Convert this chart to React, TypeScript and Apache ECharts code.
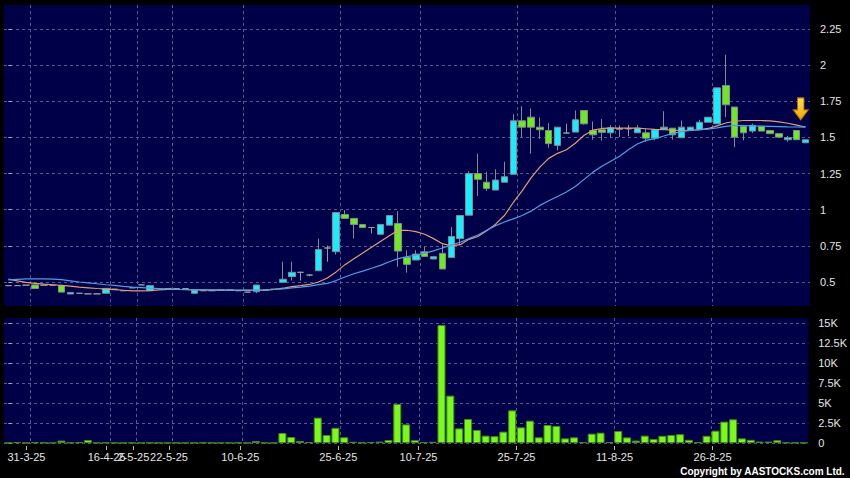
import React, { useEffect, useRef } from 'react';
import * as echarts from 'echarts';

const dates = [
  '27-3-25', '28-3-25', '31-3-25', '1-4-25', '2-4-25', '3-4-25', '7-4-25', '8-4-25', '9-4-25', '10-4-25',
  '14-4-25', '16-4-25', '22-4-25', '25-4-25', '2-5-25', '8-5-25', '13-5-25', '19-5-25', '22-5-25', '23-5-25',
  '27-5-25', '29-5-25', '30-5-25', '3-6-25', '4-6-25', '6-6-25', '10-6-25', '11-6-25', '12-6-25', '13-6-25',
  '16-6-25', '17-6-25', '18-6-25', '19-6-25', '20-6-25', '23-6-25', '24-6-25', '25-6-25', '26-6-25', '27-6-25',
  '30-6-25', '2-7-25', '3-7-25', '4-7-25', '7-7-25', '8-7-25', '10-7-25', '11-7-25', '14-7-25', '15-7-25',
  '16-7-25', '17-7-25', '18-7-25', '21-7-25', '22-7-25', '23-7-25', '24-7-25', '25-7-25', '28-7-25', '29-7-25',
  '30-7-25', '31-7-25', '1-8-25', '4-8-25', '5-8-25', '6-8-25', '7-8-25', '8-8-25', '11-8-25', '12-8-25',
  '13-8-25', '14-8-25', '15-8-25', '18-8-25', '19-8-25', '20-8-25', '21-8-25', '22-8-25', '25-8-25', '26-8-25',
  '27-8-25', '28-8-25', '29-8-25', '1-9-25', '2-9-25', '3-9-25', '4-9-25', '5-9-25', '8-9-25', '9-9-25',
  '10-9-25',
];

// [open, close, low, high]
const ohlc = [
  [0.475, 0.475, 0.475, 0.475], [0.475, 0.475, 0.475, 0.475], [0.478, 0.478, 0.478, 0.478], [0.48, 0.455, 0.455, 0.48],
  [0.478, 0.478, 0.478, 0.478], [0.478, 0.478, 0.478, 0.478], [0.475, 0.43, 0.43, 0.475], [0.417, 0.428, 0.417, 0.428],
  [0.422, 0.422, 0.422, 0.422], [0.418, 0.418, 0.418, 0.418], [0.418, 0.418, 0.418, 0.418], [0.422, 0.456, 0.422, 0.456],
  [0.45, 0.45, 0.45, 0.45], [0.44, 0.44, 0.44, 0.44], [0.46, 0.46, 0.46, 0.46], [0.48, 0.48, 0.48, 0.48],
  [0.44, 0.475, 0.44, 0.475], [0.455, 0.455, 0.455, 0.455], [0.455, 0.455, 0.455, 0.455], [0.455, 0.455, 0.455, 0.455],
  [0.455, 0.455, 0.455, 0.455], [0.422, 0.442, 0.422, 0.442], [0.44, 0.44, 0.44, 0.44], [0.44, 0.44, 0.44, 0.44],
  [0.445, 0.445, 0.445, 0.445], [0.445, 0.445, 0.445, 0.445], [0.44, 0.44, 0.44, 0.44], [0.43, 0.43, 0.43, 0.43],
  [0.433, 0.479, 0.422, 0.479], [0.445, 0.445, 0.445, 0.445], [0.45, 0.45, 0.45, 0.45], [0.498, 0.519, 0.498, 0.64],
  [0.537, 0.567, 0.51, 0.64], [0.567, 0.567, 0.51, 0.571], [0.548, 0.548, 0.54, 0.555], [0.578, 0.725, 0.578, 0.8],
  [0.735, 0.735, 0.64, 0.752], [0.71, 0.98, 0.69, 0.98], [0.967, 0.94, 0.94, 0.997], [0.94, 0.898, 0.8, 0.94],
  [0.898, 0.877, 0.877, 0.898], [0.877, 0.877, 0.836, 0.877], [0.83, 0.898, 0.83, 0.898], [0.893, 0.96, 0.893, 0.96],
  [0.905, 0.714, 0.605, 0.99], [0.67, 0.622, 0.565, 0.72], [0.652, 0.693, 0.652, 0.72], [0.709, 0.677, 0.677, 0.743],
  [0.659, 0.675, 0.659, 0.675], [0.698, 0.59, 0.59, 0.76], [0.67, 0.815, 0.67, 0.88], [0.8, 0.96, 0.755, 0.96],
  [0.962, 1.25, 0.962, 1.266], [1.25, 1.21, 1.095, 1.387], [1.19, 1.146, 1.13, 1.262], [1.136, 1.205, 1.136, 1.28],
  [1.19, 1.228, 1.19, 1.332], [1.245, 1.615, 1.245, 1.66], [1.615, 1.571, 1.5, 1.716], [1.64, 1.571, 1.387, 1.7],
  [1.571, 1.553, 1.49, 1.637], [1.548, 1.457, 1.43, 1.6], [1.445, 1.571, 1.41, 1.571], [1.53, 1.53, 1.53, 1.594],
  [1.537, 1.622, 1.537, 1.686], [1.686, 1.594, 1.588, 1.686], [1.548, 1.518, 1.484, 1.61], [1.553, 1.535, 1.478, 1.627],
  [1.532, 1.567, 1.5, 1.585], [1.556, 1.562, 1.502, 1.583], [1.56, 1.56, 1.51, 1.585], [1.532, 1.564, 1.532, 1.585],
  [1.532, 1.495, 1.47, 1.56], [1.495, 1.553, 1.48, 1.553], [1.557, 1.571, 1.557, 1.681], [1.564, 1.518, 1.485, 1.564],
  [1.498, 1.571, 1.498, 1.617], [1.548, 1.571, 1.548, 1.571], [1.553, 1.605, 1.553, 1.622], [1.605, 1.64, 1.605, 1.64],
  [1.594, 1.843, 1.594, 1.843], [1.859, 1.726, 1.64, 2.072], [1.71, 1.502, 1.433, 1.71], [1.576, 1.532, 1.48, 1.576],
  [1.544, 1.583, 1.53, 1.595], [1.576, 1.544, 1.544, 1.576], [1.548, 1.526, 1.526, 1.548], [1.526, 1.502, 1.502, 1.526],
  [1.484, 1.498, 1.47, 1.51], [1.548, 1.484, 1.484, 1.548], [1.463, 1.484, 1.463, 1.484],
];

const maShort = [
  0.52, 0.508, 0.497, 0.49, 0.485, 0.481, 0.477, 0.471, 0.465, 0.46,
  0.455, 0.451, 0.447, 0.443, 0.439, 0.438, 0.441, 0.446, 0.449, 0.448,
  0.447, 0.446, 0.445, 0.444, 0.443, 0.443, 0.443, 0.442, 0.443, 0.444,
  0.448, 0.457, 0.468, 0.475, 0.483, 0.5, 0.528, 0.57, 0.62, 0.66,
  0.7, 0.74, 0.78, 0.82, 0.857, 0.858, 0.848, 0.83, 0.8, 0.765,
  0.75, 0.758, 0.795, 0.815, 0.855, 0.9, 0.96, 1.05, 1.13, 1.22,
  1.295, 1.355, 1.39, 1.415, 1.46, 1.515, 1.55, 1.562, 1.564, 1.564,
  1.564, 1.564, 1.56, 1.556, 1.553, 1.55, 1.548, 1.55, 1.553, 1.562,
  1.58, 1.6, 1.612, 1.617, 1.617, 1.617, 1.615, 1.607, 1.598, 1.585,
  1.572,
];

const maLong = [
  0.515, 0.518, 0.521, 0.521, 0.521, 0.52, 0.516, 0.508, 0.5, 0.494,
  0.488, 0.481, 0.476, 0.47, 0.465, 0.461, 0.457, 0.454, 0.451, 0.449,
  0.448, 0.447, 0.446, 0.445, 0.445, 0.444, 0.444, 0.444, 0.444, 0.445,
  0.448, 0.453, 0.46, 0.464, 0.472, 0.482, 0.49, 0.51, 0.535, 0.557,
  0.575, 0.595, 0.615, 0.64, 0.662, 0.675, 0.685, 0.7, 0.715, 0.735,
  0.755, 0.775, 0.8, 0.825, 0.858, 0.89, 0.915, 0.937, 0.96, 0.99,
  1.03, 1.062, 1.092, 1.122, 1.16, 1.21, 1.26, 1.3, 1.335, 1.37,
  1.415, 1.455, 1.48, 1.492, 1.51, 1.528, 1.54, 1.549, 1.553, 1.558,
  1.566, 1.576, 1.583, 1.582, 1.58, 1.578, 1.577, 1.575, 1.573, 1.572,
  1.571,
];

const volume = [
  20, 100, 20, 80, 50, 20, 300, 50, 100, 370,
  20, 60, 20, 20, 20, 20, 30, 20, 20, 20,
  20, 20, 50, 20, 20, 20, 50, 20, 250, 20,
  20, 1250, 750, 250, 120, 3170, 1000, 1900, 720, 150,
  50, 120, 180, 370, 4880, 2330, 350, 100, 150, 14750,
  5920, 1830, 3000, 1630, 920, 850, 1420, 4080, 1960, 2790,
  710, 2250, 2130, 580, 710, 100, 1170, 1290, 120, 1500,
  700, 300, 920, 500, 900, 1000, 1100, 400, 100, 900,
  1540, 2670, 2960, 580, 400, 180, 180, 350, 50, 40,
  30,
];

const labelIndex = [2, 11, 14, 18, 26, 37, 46, 57, 68, 79];
const priceTicks = [0.5, 0.75, 1, 1.25, 1.5, 1.75, 2, 2.25];
const volumeTicks = [0, 2500, 5000, 7500, 10000, 12500, 15000];

const FONT = 'Liberation Sans, Arial, Helvetica, sans-serif';
const TEXT = '#e4e4e4';
const GRIDLINE = { color: '#58588e', type: [3, 3] as number[], width: 1 };

export default function App() {
  const ref = useRef<HTMLDivElement>(null);

  useEffect(() => {
    document.body.style.margin = '0';
    const chart = echarts.init(ref.current!, undefined, { renderer: 'svg' });
    const boundaryValues = labelIndex.map((i) => i + 0.5);

    const gridXAxis = (gridIndex: number) => ({
      type: 'value',
      gridIndex,
      position: 'top',
      min: -0.5,
      max: dates.length - 0.5,
      axisLine: { show: false },
      axisLabel: { show: false, customValues: boundaryValues },
      axisTick: { show: true, length: 0, customValues: boundaryValues, lineStyle: { color: 'rgba(0,0,0,0)' } },
      splitLine: { show: true, lineStyle: GRIDLINE },
    });

    chart.setOption({
      animation: false,
      backgroundColor: '#000000',
      textStyle: { fontFamily: FONT },
      grid: [
        { left: 4, right: 40, top: 5, height: 301, show: true, backgroundColor: '#000048', borderWidth: 0 },
        { left: 4, right: 40, top: 318, height: 125, show: true, backgroundColor: '#000048', borderWidth: 0 },
      ],
      xAxis: [
        { type: 'category', gridIndex: 0, position: 'bottom', data: dates, boundaryGap: true, show: false },
        { type: 'category', gridIndex: 1, position: 'bottom', data: dates, boundaryGap: true, show: false },
        gridXAxis(0),
        gridXAxis(1),
        {
          type: 'value',
          gridIndex: 1,
          position: 'bottom',
          min: -0.52,
          max: 89.74,
          offset: 3,
          axisLine: { show: false },
          axisTick: { show: true, length: 4, customValues: labelIndex, lineStyle: { color: '#b8b8b8' } },
          axisLabel: {
            customValues: labelIndex,
            formatter: (v: number) => dates[Math.round(v)],
            color: TEXT,
            fontSize: 11,
            fontFamily: FONT,
            margin: 5,
          },
          splitLine: { show: false },
        },
      ],
      yAxis: [
        {
          type: 'value',
          gridIndex: 0,
          position: 'right',
          min: 0.334,
          max: 2.416,
          offset: 3,
          axisLine: { show: false },
          axisTick: { show: true, length: 3, customValues: priceTicks, lineStyle: { color: '#b8b8b8' } },
          axisLabel: { customValues: priceTicks, color: TEXT, fontSize: 11, fontFamily: FONT, margin: 7 },
          splitLine: { show: true, lineStyle: GRIDLINE },
        },
        {
          type: 'value',
          gridIndex: 1,
          position: 'right',
          min: 0,
          max: 15625,
          offset: 3,
          axisLine: { show: false },
          axisTick: { show: true, length: 3, customValues: volumeTicks, lineStyle: { color: '#b8b8b8' } },
          axisLabel: {
            customValues: volumeTicks,
            formatter: (v: number) => (v === 0 ? '0' : v / 1000 + 'K'),
            color: TEXT,
            fontSize: 11,
            fontFamily: FONT,
            margin: 7,
          },
          splitLine: { show: true, lineStyle: GRIDLINE },
        },
      ],
      series: [
        {
          type: 'candlestick',
          xAxisIndex: 0,
          yAxisIndex: 0,
          data: ohlc,
          barWidth: 7,
          z: 2,
          itemStyle: {
            color: '#18ecff',
            color0: '#6ceb1e',
            borderColor: '#7e8e8e',
            borderColor0: '#7e8e8e',
            borderColorDoji: '#9a9a9a',
            borderWidth: 1,
          },
          markPoint: {
            symbol: 'path://M4,0 L10,0 L10,12 L14,12 L7,22 L0,12 L4,12 Z',
            symbolSize: [15, 22],
            symbolKeepAspect: false,
            label: { show: false },
            itemStyle: {
              color: new echarts.graphic.LinearGradient(0, 0, 0, 1, [
                { offset: 0, color: '#ffe24a' },
                { offset: 1, color: '#f0a400' },
              ]),
              borderColor: '#b86e00',
              borderWidth: 1,
            },
            data: [{ coord: [89, 1.697], symbolOffset: [4, 0] }],
          },
        },
        {
          type: 'line',
          xAxisIndex: 0,
          yAxisIndex: 0,
          data: maShort,
          showSymbol: false,
          z: 3,
          lineStyle: { color: '#e39a78', width: 1.2 },
        },
        {
          type: 'line',
          xAxisIndex: 0,
          yAxisIndex: 0,
          data: maLong,
          showSymbol: false,
          z: 3,
          lineStyle: { color: '#4aa0e2', width: 1.2 },
        },
        {
          type: 'bar',
          xAxisIndex: 1,
          yAxisIndex: 1,
          data: volume,
          barWidth: 8,
          itemStyle: { color: '#7cf81c', borderColor: '#3f8f0e', borderWidth: 1 },
        },
      ],
      graphic: [
        {
          type: 'text',
          right: 5,
          top: 466,
          style: {
            text: 'Copyright by AASTOCKS.com Ltd.',
            fill: '#ffffff',
            fontSize: 10,
            fontWeight: 'bold',
            fontFamily: FONT,
          },
        },
      ],
    });

    return () => chart.dispose();
  }, []);

  return (
    <div
      ref={ref}
      style={{ position: 'fixed', left: 0, top: 0, width: 850, height: 478, background: '#000' }}
    />
  );
}
